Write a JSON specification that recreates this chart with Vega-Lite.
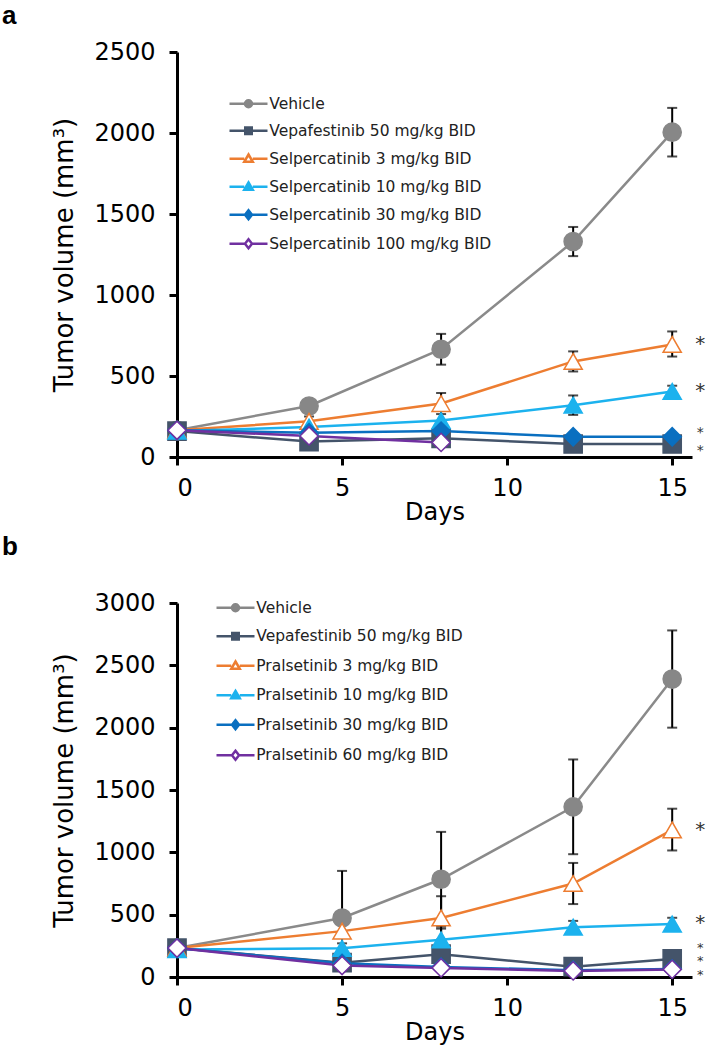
{
  "$schema": "https://vega.github.io/schema/vega-lite/v6.json",
  "background": "white",
  "padding": {"left": 2, "top": 3, "right": 2, "bottom": 2},
  "spacing": 10,
  "config": {
    "view": {"stroke": null},
    "font": "DejaVu Sans",
    "axis": {
      "domainColor": "black", "domainWidth": 3, "tickColor": "black", "tickWidth": 3, "tickSize": 8,
      "labelColor": "black", "titleColor": "black", "labelFont": "DejaVu Sans", "labelFontSize": 24,
      "titleFont": "DejaVu Sans", "titleFontSize": 24, "titleFontWeight": "normal", "grid": false, "format": "d"
    },
    "axisX": {"labelPadding": 11, "titlePadding": 0},
    "axisY": {"labelPadding": 14, "titlePadding": 16, "titleFontSize": 26},
    "legend": {
      "orient": "none", "labelFont": "DejaVu Sans", "labelFontSize": 15.5, "labelColor": "#222", "labelLimit": 0,
      "symbolSize": 100, "symbolStrokeWidth": 2.5, "symbolOffset": 12.75, "labelOffset": 13, "padding": 0
    },
    "title": {"font": "Liberation Sans", "fontSize": 26, "fontWeight": "bold", "color": "black", "anchor": "start", "frame": "group"}
  },
  "datasets": {
    "a": [
      {"series": "Vehicle", "day": 0, "volume": 165, "lo": null, "hi": null},
      {"series": "Vehicle", "day": 4, "volume": 315, "lo": null, "hi": null},
      {"series": "Vehicle", "day": 8, "volume": 665, "lo": 570, "hi": 760},
      {"series": "Vehicle", "day": 12, "volume": 1330, "lo": 1240, "hi": 1420},
      {"series": "Vehicle", "day": 15, "volume": 2005, "lo": 1855, "hi": 2155},
      {"series": "Vepafestinib 50 mg/kg BID", "day": 0, "volume": 160, "lo": null, "hi": null},
      {"series": "Vepafestinib 50 mg/kg BID", "day": 4, "volume": 95, "lo": null, "hi": null},
      {"series": "Vepafestinib 50 mg/kg BID", "day": 8, "volume": 115, "lo": null, "hi": null},
      {"series": "Vepafestinib 50 mg/kg BID", "day": 12, "volume": 80, "lo": null, "hi": null},
      {"series": "Vepafestinib 50 mg/kg BID", "day": 15, "volume": 80, "lo": null, "hi": null},
      {"series": "Selpercatinib 3 mg/kg BID", "day": 0, "volume": 165, "lo": null, "hi": null},
      {"series": "Selpercatinib 3 mg/kg BID", "day": 4, "volume": 220, "lo": 195, "hi": 250},
      {"series": "Selpercatinib 3 mg/kg BID", "day": 8, "volume": 330, "lo": 265, "hi": 395},
      {"series": "Selpercatinib 3 mg/kg BID", "day": 12, "volume": 590, "lo": 528, "hi": 652},
      {"series": "Selpercatinib 3 mg/kg BID", "day": 15, "volume": 695, "lo": 620, "hi": 775},
      {"series": "Selpercatinib 10 mg/kg BID", "day": 0, "volume": 160, "lo": null, "hi": null},
      {"series": "Selpercatinib 10 mg/kg BID", "day": 4, "volume": 185, "lo": null, "hi": null},
      {"series": "Selpercatinib 10 mg/kg BID", "day": 8, "volume": 225, "lo": null, "hi": null},
      {"series": "Selpercatinib 10 mg/kg BID", "day": 12, "volume": 320, "lo": 260, "hi": 380},
      {"series": "Selpercatinib 10 mg/kg BID", "day": 15, "volume": 405, "lo": 370, "hi": 440},
      {"series": "Selpercatinib 30 mg/kg BID", "day": 0, "volume": 165, "lo": null, "hi": null},
      {"series": "Selpercatinib 30 mg/kg BID", "day": 4, "volume": 150, "lo": null, "hi": null},
      {"series": "Selpercatinib 30 mg/kg BID", "day": 8, "volume": 160, "lo": null, "hi": null},
      {"series": "Selpercatinib 30 mg/kg BID", "day": 12, "volume": 125, "lo": null, "hi": null},
      {"series": "Selpercatinib 30 mg/kg BID", "day": 15, "volume": 125, "lo": null, "hi": null},
      {"series": "Selpercatinib 100 mg/kg BID", "day": 0, "volume": 165, "lo": null, "hi": null},
      {"series": "Selpercatinib 100 mg/kg BID", "day": 4, "volume": 130, "lo": null, "hi": null},
      {"series": "Selpercatinib 100 mg/kg BID", "day": 8, "volume": 90, "lo": null, "hi": null}
    ],
    "b": [
      {"series": "Vehicle", "day": 0, "volume": 232, "lo": null, "hi": null},
      {"series": "Vehicle", "day": 5, "volume": 473, "lo": 95, "hi": 851},
      {"series": "Vehicle", "day": 8, "volume": 784, "lo": 404, "hi": 1164},
      {"series": "Vehicle", "day": 12, "volume": 1365, "lo": 985, "hi": 1745},
      {"series": "Vehicle", "day": 15, "volume": 2390, "lo": 2000, "hi": 2780},
      {"series": "Vepafestinib 50 mg/kg BID", "day": 0, "volume": 232, "lo": null, "hi": null},
      {"series": "Vepafestinib 50 mg/kg BID", "day": 5, "volume": 115, "lo": null, "hi": null},
      {"series": "Vepafestinib 50 mg/kg BID", "day": 8, "volume": 183, "lo": null, "hi": null},
      {"series": "Vepafestinib 50 mg/kg BID", "day": 12, "volume": 83, "lo": null, "hi": null},
      {"series": "Vepafestinib 50 mg/kg BID", "day": 15, "volume": 145, "lo": null, "hi": null},
      {"series": "Pralsetinib 3 mg/kg BID", "day": 0, "volume": 232, "lo": null, "hi": null},
      {"series": "Pralsetinib 3 mg/kg BID", "day": 5, "volume": 368, "lo": 318, "hi": 418},
      {"series": "Pralsetinib 3 mg/kg BID", "day": 8, "volume": 474, "lo": 300, "hi": 648},
      {"series": "Pralsetinib 3 mg/kg BID", "day": 12, "volume": 750, "lo": 585, "hi": 915},
      {"series": "Pralsetinib 3 mg/kg BID", "day": 15, "volume": 1180, "lo": 1015, "hi": 1350},
      {"series": "Pralsetinib 10 mg/kg BID", "day": 0, "volume": 220, "lo": null, "hi": null},
      {"series": "Pralsetinib 10 mg/kg BID", "day": 5, "volume": 230, "lo": 190, "hi": 270},
      {"series": "Pralsetinib 10 mg/kg BID", "day": 8, "volume": 298, "lo": 208, "hi": 388},
      {"series": "Pralsetinib 10 mg/kg BID", "day": 12, "volume": 400, "lo": 350, "hi": 450},
      {"series": "Pralsetinib 10 mg/kg BID", "day": 15, "volume": 425, "lo": 375, "hi": 475},
      {"series": "Pralsetinib 30 mg/kg BID", "day": 0, "volume": 232, "lo": null, "hi": null},
      {"series": "Pralsetinib 30 mg/kg BID", "day": 5, "volume": 110, "lo": null, "hi": null},
      {"series": "Pralsetinib 30 mg/kg BID", "day": 8, "volume": 80, "lo": null, "hi": null},
      {"series": "Pralsetinib 30 mg/kg BID", "day": 12, "volume": 55, "lo": null, "hi": null},
      {"series": "Pralsetinib 30 mg/kg BID", "day": 15, "volume": 65, "lo": null, "hi": null},
      {"series": "Pralsetinib 60 mg/kg BID", "day": 0, "volume": 232, "lo": null, "hi": null},
      {"series": "Pralsetinib 60 mg/kg BID", "day": 5, "volume": 92, "lo": null, "hi": null},
      {"series": "Pralsetinib 60 mg/kg BID", "day": 8, "volume": 73, "lo": null, "hi": null},
      {"series": "Pralsetinib 60 mg/kg BID", "day": 12, "volume": 49, "lo": null, "hi": null},
      {"series": "Pralsetinib 60 mg/kg BID", "day": 15, "volume": 61, "lo": null, "hi": null}
    ],
    "starsA": [
      {"day": 15, "volume": 700, "label": "*"},
      {"day": 15, "volume": 405, "label": "*"},
      {"day": 15, "volume": 150, "label": "*"},
      {"day": 15, "volume": 35, "label": "*"}
    ],
    "starsB": [
      {"day": 15, "volume": 1180, "label": "*"},
      {"day": 15, "volume": 430, "label": "*"},
      {"day": 15, "volume": 230, "label": "*"},
      {"day": 15, "volume": 125, "label": "*"},
      {"day": 15, "volume": 20, "label": "*"}
    ]
  },
  "resolve": {
    "scale": {"x": "independent", "y": "independent", "color": "independent", "fill": "independent", "stroke": "independent", "shape": "independent"},
    "legend": {"color": "independent", "fill": "independent", "stroke": "independent", "shape": "independent"}
  },
  "vconcat": [
    {
      "title": {"text": "a", "dx": -175, "offset": 11},
      "width": 515,
      "height": 405,
      "resolve": {"scale": {"shape": "independent", "fill": "independent", "stroke": "independent"}},
      "layer": [
        {
          "data": {"name": "a"},
          "transform": [{"filter": "isValid(datum.lo)"}],
          "mark": {"type": "errorbar", "ticks": {"thickness": 2}, "size": 10, "thickness": 2, "color": "black"},
          "encoding": {
            "x": {"field": "day", "type": "quantitative", "scale": {"domain": [0, 15.6], "nice": false}, "axis": {"values": [0, 5, 10, 15]}, "title": "Days"},
            "y": {"field": "lo", "type": "quantitative", "scale": {"domain": [0, 2500], "nice": false}, "axis": {"values": [0, 500, 1000, 1500, 2000, 2500]}, "title": "Tumor volume (mm³)"},
            "y2": {"field": "hi"}
          }
        },
        {
          "data": {"name": "a"},
          "mark": {"type": "line", "strokeWidth": 2.5},
          "encoding": {
            "x": {"field": "day", "type": "quantitative", "scale": {"domain": [0, 15.6], "nice": false}, "axis": {"values": [0, 5, 10, 15]}, "title": "Days"},
            "y": {"field": "volume", "type": "quantitative", "scale": {"domain": [0, 2500], "nice": false}, "axis": {"values": [0, 500, 1000, 1500, 2000, 2500]}, "title": "Tumor volume (mm³)"},
            "color": {"field": "series", "type": "nominal", "legend": null,
              "sort": ["Vehicle", "Vepafestinib 50 mg/kg BID", "Selpercatinib 3 mg/kg BID", "Selpercatinib 10 mg/kg BID", "Selpercatinib 30 mg/kg BID", "Selpercatinib 100 mg/kg BID"],
              "scale": {"range": ["#8a8a8a", "#44546a", "#ed7d31", "#1cb2ee", "#0a6fc0", "#7030a0"]}}
          }
        },
        {
          "data": {"name": "a"},
          "mark": {"type": "point", "filled": true, "size": 330, "strokeWidth": 1.5, "opacity": 1},
          "encoding": {
            "x": {"field": "day", "type": "quantitative", "scale": {"domain": [0, 15.6], "nice": false}, "axis": {"values": [0, 5, 10, 15]}, "title": "Days"},
            "y": {"field": "volume", "type": "quantitative", "scale": {"domain": [0, 2500], "nice": false}, "axis": {"values": [0, 500, 1000, 1500, 2000, 2500]}, "title": "Tumor volume (mm³)"},
            "shape": {"field": "series", "type": "nominal", "legend": null,
              "scale": {"domain": ["Vehicle", "Vepafestinib 50 mg/kg BID", "Selpercatinib 3 mg/kg BID", "Selpercatinib 10 mg/kg BID", "Selpercatinib 30 mg/kg BID", "Selpercatinib 100 mg/kg BID"],
                        "range": ["circle", "square", "triangle-up", "triangle-up", "diamond", "diamond"]}},
            "fill": {"field": "series", "type": "nominal", "legend": null,
              "scale": {"domain": ["Vehicle", "Vepafestinib 50 mg/kg BID", "Selpercatinib 3 mg/kg BID", "Selpercatinib 10 mg/kg BID", "Selpercatinib 30 mg/kg BID", "Selpercatinib 100 mg/kg BID"],
                        "range": ["#878787", "#44546a", "#ffffff", "#1cb2ee", "#0a6fc0", "#ffffff"]}},
            "stroke": {"field": "series", "type": "nominal", "legend": null,
              "scale": {"domain": ["Vehicle", "Vepafestinib 50 mg/kg BID", "Selpercatinib 3 mg/kg BID", "Selpercatinib 10 mg/kg BID", "Selpercatinib 30 mg/kg BID", "Selpercatinib 100 mg/kg BID"],
                        "range": ["#878787", "#44546a", "#ed7d31", "#1cb2ee", "#0a6fc0", "#7030a0"]}}
          }
        },
        {
          "data": {"name": "a"},
          "transform": [{"filter": "false"}],
          "mark": {"type": "point", "filled": true, "size": 100, "strokeWidth": 2.5, "opacity": 1},
          "encoding": {
            "x": {"field": "day", "type": "quantitative", "scale": {"domain": [0, 15.6], "nice": false}, "axis": {"values": [0, 5, 10, 15]}, "title": "Days"},
            "y": {"field": "volume", "type": "quantitative", "scale": {"domain": [0, 2500], "nice": false}, "axis": {"values": [0, 500, 1000, 1500, 2000, 2500]}, "title": "Tumor volume (mm³)"},
            "shape": {"field": "series", "type": "nominal",
              "scale": {"domain": ["Vehicle", "Vepafestinib 50 mg/kg BID", "Selpercatinib 3 mg/kg BID", "Selpercatinib 10 mg/kg BID", "Selpercatinib 30 mg/kg BID", "Selpercatinib 100 mg/kg BID"],
                        "range": ["M-3.8,0H-0.8M0.8,0H3.8M-0.7,0A0.7,0.7,0,1,0,0.7,0A0.7,0.7,0,1,0,-0.7,0Z", "M-3.8,0H-0.8M0.8,0H3.8M-0.65,-0.65H0.65V0.65H-0.65Z", "M-3.8,0H-0.85M0.85,0H3.8M0,-0.85L0.85,0.6H-0.85Z", "M-3.8,0H-0.85M0.85,0H3.8M0,-0.85L0.85,0.6H-0.85Z", "M-3.8,0H-0.7M0.7,0H3.8M0,-0.9L0.7,0L0,0.9L-0.7,0Z", "M-3.8,0H-0.7M0.7,0H3.8M0,-0.9L0.7,0L0,0.9L-0.7,0Z"]},
              "legend": {"title": null, "legendX": 51, "legendY": 44, "rowPadding": 9}},
            "fill": {"field": "series", "type": "nominal",
              "scale": {"domain": ["Vehicle", "Vepafestinib 50 mg/kg BID", "Selpercatinib 3 mg/kg BID", "Selpercatinib 10 mg/kg BID", "Selpercatinib 30 mg/kg BID", "Selpercatinib 100 mg/kg BID"],
                        "range": ["#878787", "#44546a", "#ffffff", "#1cb2ee", "#0a6fc0", "#ffffff"]},
              "legend": {"title": null, "legendX": 51, "legendY": 44, "rowPadding": 9}},
            "stroke": {"field": "series", "type": "nominal",
              "scale": {"domain": ["Vehicle", "Vepafestinib 50 mg/kg BID", "Selpercatinib 3 mg/kg BID", "Selpercatinib 10 mg/kg BID", "Selpercatinib 30 mg/kg BID", "Selpercatinib 100 mg/kg BID"],
                        "range": ["#878787", "#44546a", "#ed7d31", "#1cb2ee", "#0a6fc0", "#7030a0"]},
              "legend": {"title": null, "legendX": 51, "legendY": 44, "rowPadding": 9}}
          }
        },
        {
          "data": {"name": "starsA"},
          "transform": [{"filter": "datum.volume > 300"}],
          "mark": {"type": "text", "dx": 28, "fontSize": 20, "baseline": "middle", "color": "#333"},
          "encoding": {
            "x": {"field": "day", "type": "quantitative", "scale": {"domain": [0, 15.6], "nice": false}, "axis": {"values": [0, 5, 10, 15]}, "title": "Days"},
            "y": {"field": "volume", "type": "quantitative", "scale": {"domain": [0, 2500], "nice": false}, "axis": {"values": [0, 500, 1000, 1500, 2000, 2500]}, "title": "Tumor volume (mm³)"},
            "text": {"field": "label"}
          }
        },
        {
          "data": {"name": "starsA"},
          "transform": [{"filter": "datum.volume <= 300"}],
          "mark": {"type": "text", "dx": 28, "fontSize": 14, "baseline": "middle", "color": "#333"},
          "encoding": {
            "x": {"field": "day", "type": "quantitative", "scale": {"domain": [0, 15.6], "nice": false}, "axis": {"values": [0, 5, 10, 15]}, "title": "Days"},
            "y": {"field": "volume", "type": "quantitative", "scale": {"domain": [0, 2500], "nice": false}, "axis": {"values": [0, 500, 1000, 1500, 2000, 2500]}, "title": "Tumor volume (mm³)"},
            "text": {"field": "label"}
          }
        }
      ]
    },
    {
      "title": {"text": "b", "dx": -175, "offset": 31},
      "width": 515,
      "height": 374,
      "resolve": {"scale": {"shape": "independent", "fill": "independent", "stroke": "independent"}},
      "layer": [
        {
          "data": {"name": "b"},
          "transform": [{"filter": "isValid(datum.lo)"}],
          "mark": {"type": "errorbar", "ticks": {"thickness": 2}, "size": 10, "thickness": 2, "color": "black"},
          "encoding": {
            "x": {"field": "day", "type": "quantitative", "scale": {"domain": [0, 15.6], "nice": false}, "axis": {"values": [0, 5, 10, 15]}, "title": "Days"},
            "y": {"field": "lo", "type": "quantitative", "scale": {"domain": [0, 3000], "nice": false}, "axis": {"values": [0, 500, 1000, 1500, 2000, 2500, 3000]}, "title": "Tumor volume (mm³)"},
            "y2": {"field": "hi"}
          }
        },
        {
          "data": {"name": "b"},
          "mark": {"type": "line", "strokeWidth": 2.5},
          "encoding": {
            "x": {"field": "day", "type": "quantitative", "scale": {"domain": [0, 15.6], "nice": false}, "axis": {"values": [0, 5, 10, 15]}, "title": "Days"},
            "y": {"field": "volume", "type": "quantitative", "scale": {"domain": [0, 3000], "nice": false}, "axis": {"values": [0, 500, 1000, 1500, 2000, 2500, 3000]}, "title": "Tumor volume (mm³)"},
            "color": {"field": "series", "type": "nominal", "legend": null,
              "sort": ["Vehicle", "Vepafestinib 50 mg/kg BID", "Pralsetinib 3 mg/kg BID", "Pralsetinib 10 mg/kg BID", "Pralsetinib 30 mg/kg BID", "Pralsetinib 60 mg/kg BID"],
              "scale": {"range": ["#8a8a8a", "#44546a", "#ed7d31", "#1cb2ee", "#0a6fc0", "#7030a0"]}}
          }
        },
        {
          "data": {"name": "b"},
          "mark": {"type": "point", "filled": true, "size": 330, "strokeWidth": 1.5, "opacity": 1},
          "encoding": {
            "x": {"field": "day", "type": "quantitative", "scale": {"domain": [0, 15.6], "nice": false}, "axis": {"values": [0, 5, 10, 15]}, "title": "Days"},
            "y": {"field": "volume", "type": "quantitative", "scale": {"domain": [0, 3000], "nice": false}, "axis": {"values": [0, 500, 1000, 1500, 2000, 2500, 3000]}, "title": "Tumor volume (mm³)"},
            "shape": {"field": "series", "type": "nominal", "legend": null,
              "scale": {"domain": ["Vehicle", "Vepafestinib 50 mg/kg BID", "Pralsetinib 3 mg/kg BID", "Pralsetinib 10 mg/kg BID", "Pralsetinib 30 mg/kg BID", "Pralsetinib 60 mg/kg BID"],
                        "range": ["circle", "square", "triangle-up", "triangle-up", "diamond", "diamond"]}},
            "fill": {"field": "series", "type": "nominal", "legend": null,
              "scale": {"domain": ["Vehicle", "Vepafestinib 50 mg/kg BID", "Pralsetinib 3 mg/kg BID", "Pralsetinib 10 mg/kg BID", "Pralsetinib 30 mg/kg BID", "Pralsetinib 60 mg/kg BID"],
                        "range": ["#878787", "#44546a", "#ffffff", "#1cb2ee", "#0a6fc0", "#ffffff"]}},
            "stroke": {"field": "series", "type": "nominal", "legend": null,
              "scale": {"domain": ["Vehicle", "Vepafestinib 50 mg/kg BID", "Pralsetinib 3 mg/kg BID", "Pralsetinib 10 mg/kg BID", "Pralsetinib 30 mg/kg BID", "Pralsetinib 60 mg/kg BID"],
                        "range": ["#878787", "#44546a", "#ed7d31", "#1cb2ee", "#0a6fc0", "#7030a0"]}}
          }
        },
        {
          "data": {"name": "b"},
          "transform": [{"filter": "false"}],
          "mark": {"type": "point", "filled": true, "size": 100, "strokeWidth": 2.5, "opacity": 1},
          "encoding": {
            "x": {"field": "day", "type": "quantitative", "scale": {"domain": [0, 15.6], "nice": false}, "axis": {"values": [0, 5, 10, 15]}, "title": "Days"},
            "y": {"field": "volume", "type": "quantitative", "scale": {"domain": [0, 3000], "nice": false}, "axis": {"values": [0, 500, 1000, 1500, 2000, 2500, 3000]}, "title": "Tumor volume (mm³)"},
            "shape": {"field": "series", "type": "nominal",
              "scale": {"domain": ["Vehicle", "Vepafestinib 50 mg/kg BID", "Pralsetinib 3 mg/kg BID", "Pralsetinib 10 mg/kg BID", "Pralsetinib 30 mg/kg BID", "Pralsetinib 60 mg/kg BID"],
                        "range": ["M-3.8,0H-0.8M0.8,0H3.8M-0.7,0A0.7,0.7,0,1,0,0.7,0A0.7,0.7,0,1,0,-0.7,0Z", "M-3.8,0H-0.8M0.8,0H3.8M-0.65,-0.65H0.65V0.65H-0.65Z", "M-3.8,0H-0.85M0.85,0H3.8M0,-0.85L0.85,0.6H-0.85Z", "M-3.8,0H-0.85M0.85,0H3.8M0,-0.85L0.85,0.6H-0.85Z", "M-3.8,0H-0.7M0.7,0H3.8M0,-0.9L0.7,0L0,0.9L-0.7,0Z", "M-3.8,0H-0.7M0.7,0H3.8M0,-0.9L0.7,0L0,0.9L-0.7,0Z"]},
              "legend": {"title": null, "legendX": 38, "legendY": -3, "rowPadding": 10.5}},
            "fill": {"field": "series", "type": "nominal",
              "scale": {"domain": ["Vehicle", "Vepafestinib 50 mg/kg BID", "Pralsetinib 3 mg/kg BID", "Pralsetinib 10 mg/kg BID", "Pralsetinib 30 mg/kg BID", "Pralsetinib 60 mg/kg BID"],
                        "range": ["#878787", "#44546a", "#ffffff", "#1cb2ee", "#0a6fc0", "#ffffff"]},
              "legend": {"title": null, "legendX": 38, "legendY": -3, "rowPadding": 10.5}},
            "stroke": {"field": "series", "type": "nominal",
              "scale": {"domain": ["Vehicle", "Vepafestinib 50 mg/kg BID", "Pralsetinib 3 mg/kg BID", "Pralsetinib 10 mg/kg BID", "Pralsetinib 30 mg/kg BID", "Pralsetinib 60 mg/kg BID"],
                        "range": ["#878787", "#44546a", "#ed7d31", "#1cb2ee", "#0a6fc0", "#7030a0"]},
              "legend": {"title": null, "legendX": 38, "legendY": -3, "rowPadding": 10.5}}
          }
        },
        {
          "data": {"name": "starsB"},
          "transform": [{"filter": "datum.volume > 300"}],
          "mark": {"type": "text", "dx": 28, "fontSize": 20, "baseline": "middle", "color": "#333"},
          "encoding": {
            "x": {"field": "day", "type": "quantitative", "scale": {"domain": [0, 15.6], "nice": false}, "axis": {"values": [0, 5, 10, 15]}, "title": "Days"},
            "y": {"field": "volume", "type": "quantitative", "scale": {"domain": [0, 3000], "nice": false}, "axis": {"values": [0, 500, 1000, 1500, 2000, 2500, 3000]}, "title": "Tumor volume (mm³)"},
            "text": {"field": "label"}
          }
        },
        {
          "data": {"name": "starsB"},
          "transform": [{"filter": "datum.volume <= 300"}],
          "mark": {"type": "text", "dx": 28, "fontSize": 13, "baseline": "middle", "color": "#333"},
          "encoding": {
            "x": {"field": "day", "type": "quantitative", "scale": {"domain": [0, 15.6], "nice": false}, "axis": {"values": [0, 5, 10, 15]}, "title": "Days"},
            "y": {"field": "volume", "type": "quantitative", "scale": {"domain": [0, 3000], "nice": false}, "axis": {"values": [0, 500, 1000, 1500, 2000, 2500, 3000]}, "title": "Tumor volume (mm³)"},
            "text": {"field": "label"}
          }
        }
      ]
    }
  ]
}
